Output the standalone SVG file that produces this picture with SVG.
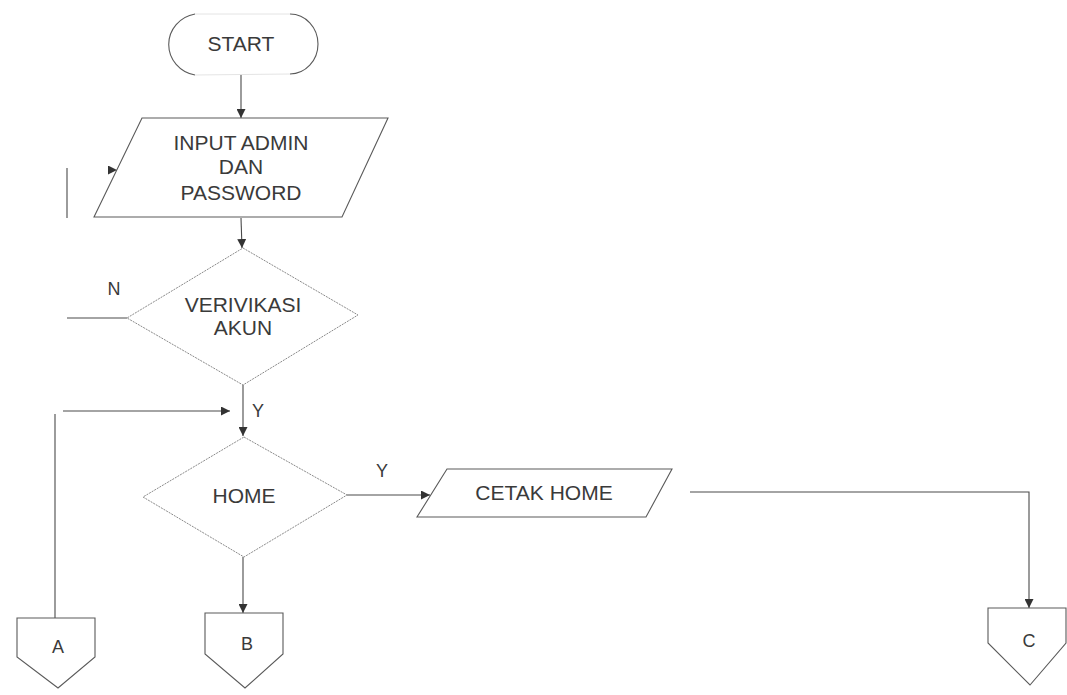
<svg xmlns="http://www.w3.org/2000/svg" width="1067" height="695" viewBox="0 0 1067 695">
  <defs>
    <marker id="arrow" viewBox="0 0 10 10" refX="10" refY="5" markerWidth="9" markerHeight="9" markerUnits="userSpaceOnUse" orient="auto">
      <path d="M0,0 L10,5 L0,10 Z" fill="#333"/>
    </marker>
    <style>
      .shape { fill: none; stroke: #5a5a5a; stroke-width: 1.1; }
      .faint { fill: none; stroke: #e4e4e4; stroke-width: 1; }
      .soft { fill: none; stroke: #8a8a8a; stroke-width: 1; stroke-dasharray: 2 1; }
      .line { fill: none; stroke: #4a4a4a; stroke-width: 1.1; }
      .label { font-family: "Liberation Sans", Arial, sans-serif; font-size: 21px; fill: #3a3a3a; text-anchor: middle; }
      .small { font-size: 18px; }
    </style>
  </defs>
  <rect width="1067" height="695" fill="#ffffff"/>

  <!-- flow connectors -->
  <g id="connectors">
    <path class="line" d="M241,75 L241,118" marker-end="url(#arrow)"/>
    <path class="line" d="M241,218 L242,248" marker-end="url(#arrow)"/>
    <path class="line" d="M243,385 L243,436" marker-end="url(#arrow)"/>
    <path class="line" d="M243,557 L243,613" marker-end="url(#arrow)"/>
    <path class="line" d="M347,495 L430,495" marker-end="url(#arrow)"/>
    <path class="line" d="M690,492 L1029,492 L1029,608" marker-end="url(#arrow)"/>
    <!-- N branch back to input -->
    <path class="line" d="M67,318 L127,318"/>
    <path class="line" d="M67,168 L67,218"/>
    <path class="line" d="M104,170 L117,170" stroke-opacity="0" marker-end="url(#arrow)"/>
    <!-- return from A into HOME -->
    <path class="line" d="M63,411 L230,411" marker-end="url(#arrow)"/>
    <path class="line" d="M55,414 L55,618"/>
  </g>

  <g id="start">
    <path class="shape" d="M195,14 A32,31 0 0 0 195,75"/>
    <path class="shape" d="M290,14 A28,30 0 0 1 290,74"/>
    <path class="faint" d="M195,14 L290,14 M195,75 L290,74"/>
    <text class="label" x="241" y="51">START</text>
  </g>

  <g id="input-admin">
    <path class="shape" d="M142,118 L388,118 L342,217 L94,217 Z"/>
    <text class="label" x="241" y="150">INPUT ADMIN</text>
    <text class="label" x="241" y="174">DAN</text>
    <text class="label" x="241" y="200">PASSWORD</text>
  </g>

  <g id="verifikasi">
    <path class="soft" d="M243,248 L358,315 L243,385 L127,318 Z"/>
    <text class="label" x="243" y="312">VERIVIKASI</text>
    <text class="label" x="243" y="335">AKUN</text>
    <text class="label small" x="114" y="295">N</text>
    <text class="label small" x="258" y="417">Y</text>
  </g>

  <g id="home">
    <path class="soft" d="M244,437 L347,495 L244,557 L143,497 Z"/>
    <text class="label" x="244" y="503">HOME</text>
    <text class="label small" x="382" y="477">Y</text>
  </g>

  <g id="cetak-home">
    <path class="shape" d="M447,469 L672,469 L646,517 L417,517 Z"/>
    <text class="label" x="544" y="500">CETAK HOME</text>
  </g>

  <g id="conn-a">
    <path class="shape" d="M17,618 L95,618 L95,657 L58,688 L17,657 Z"/>
    <text class="label small" x="58" y="653">A</text>
  </g>

  <g id="conn-b">
    <path class="shape" d="M205,613 L283,613 L283,654 L245,688 L205,654 Z"/>
    <text class="label small" x="247" y="650">B</text>
  </g>

  <g id="conn-c">
    <path class="shape" d="M988,608 L1066,608 L1066,643 L1030,685 L988,643 Z"/>
    <text class="label small" x="1029" y="647">C</text>
  </g>
</svg>
